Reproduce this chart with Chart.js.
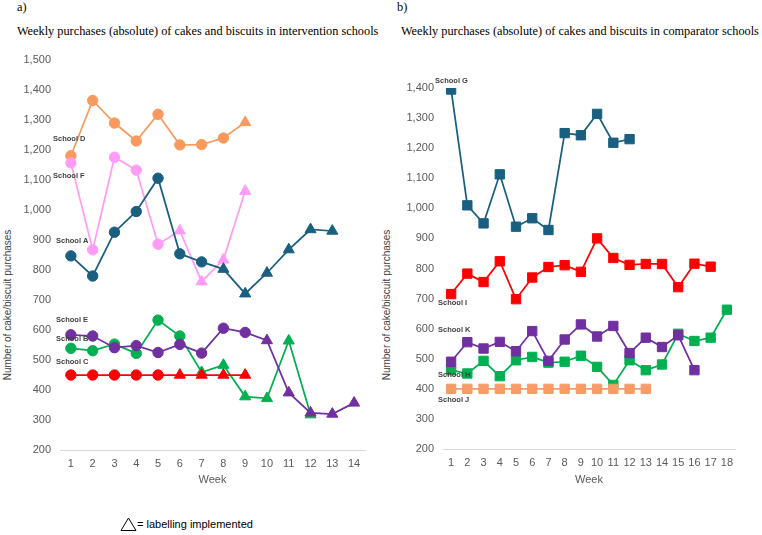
<!DOCTYPE html>
<html>
<head>
<meta charset="utf-8">
<script src="https://cdn.jsdelivr.net/npm/chart.js@4.4.1/dist/chart.umd.min.js"></script>
<style>
  body { margin: 0; width: 762px; height: 535px; background: #fff; position: relative; overflow: hidden; }
  .serif { position: absolute; font-family: "Liberation Serif", "Times New Roman", serif; font-size: 12.3px; color: #000; white-space: nowrap; }
  .ytitle { position: absolute; font-family: "Liberation Sans", Arial, sans-serif; font-size: 10px; color: #404040; white-space: nowrap; transform: translate(-50%, -50%) rotate(-90deg); }
  .note { position: absolute; font-family: "Liberation Sans", Arial, sans-serif; font-size: 11px; color: #000; white-space: nowrap; }
  #left { position: absolute; left: 0; top: 0; }
  #right { position: absolute; left: 385px; top: 0; }
</style>
</head>
<body>
<div class="serif" style="left:17px; top:0px;">a)</div>
<div class="serif" style="left:17px; top:24px;">Weekly purchases (absolute) of cakes and biscuits in intervention schools</div>
<div class="serif" style="left:397px; top:0px;">b)</div>
<div class="serif" style="left:401px; top:24px;">Weekly purchases (absolute) of cakes and biscuits in comparator schools</div>
<div class="ytitle" style="left:7px; top:305px;">Number of cake/biscuit purchases</div>
<div class="ytitle" style="left:386px; top:305px;">Number of cake/biscuit purchases</div>
<canvas id="left" width="385" height="495"></canvas>
<canvas id="right" width="377" height="495"></canvas>
<svg style="position:absolute; left:120px; top:517px;" width="18" height="15"><polygon points="8.5,1 16,13.5 1,13.5" fill="none" stroke="#000" stroke-width="1"/></svg>
<div class="note" style="left:137px; top:518px;">= labelling implemented</div>
<script>
// weeks
const weeksA = ['1', '2', '3', '4', '5', '6', '7', '8', '9', '10', '11', '12', '13', '14'];
const weeksB = ['1', '2', '3', '4', '5', '6', '7', '8', '9', '10', '11', '12', '13', '14', '15', '16', '17', '18'];

// intervention schools (a)
const schoolD = [1181, 1365, 1290, 1230, 1319, 1217, 1218, 1240, 1292];
const schoolF = [1157, 867, 1176, 1133, 886, 931, 761, 834, 1063];
const schoolA = [847, 780, 926, 995, 1106, 854, 827, 803, 721, 790, 868, 935, 930];
const schoolE = [584, 580, 541, 548, 525, 552, 523, 606, 592, 565, 391, 324, 320, 357];
const schoolB = [539, 531, 553, 522, 633, 580, 459, 483, 378, 372, 564, 318];
const schoolC = [450, 450, 450, 450, 450, 450, 450, 450, 450];
// week in which labelling started
const labelStart = { D: 9, F: 6, A: 8, E: 10, B: 7, C: 6 };

// comparator schools (b)
const schoolG = [1395, 1010, 950, 1113, 939, 967, 928, 1250, 1243, 1314, 1218, 1230];
const schoolI = [715, 783, 755, 824, 698, 770, 805, 811, 789, 900, 835, 812, 815, 815, 738, 816, 806];
const schoolK = [490, 555, 534, 556, 525, 592, 493, 564, 614, 574, 609, 519, 570, 539, 578, 462];
const schoolH = [462, 451, 493, 442, 495, 506, 487, 490, 510, 473, 413, 495, 462, 481, 583, 559, 570, 663];
const schoolJ = [400, 400, 400, 400, 400, 400, 400, 400, 400, 400, 400, 400, 400];

const FONT = '"Liberation Sans", Arial, sans-serif';
const TICK = '#595959';

// draws the "School X" tags next to the first point of each line
const schoolLabels = {
  id: 'schoolLabels',
  afterDatasetsDraw(chart, args, opts) {
    const ctx = chart.ctx;
    const y = chart.scales.y;
    ctx.save();
    ctx.font = 'bold 7.5px ' + FONT;
    ctx.fillStyle = '#404040';
    ctx.textBaseline = 'middle';
    ctx.textAlign = 'left';
    opts.items.forEach(it => {
      ctx.fillText(it.text, chart.chartArea.left + it.dx, y.getPixelForValue(it.at));
    });
    ctx.restore();
  }
};

function interventionSet(data, color, start) {
  return {
    data: data,
    borderColor: color,
    backgroundColor: color,
    borderWidth: 1.75,
    pointBorderColor: color,
    pointBorderWidth: 1,
    pointStyle: ctx => (ctx.dataIndex + 1 >= start ? 'triangle' : 'circle'),
    pointRadius: ctx => (ctx.dataIndex + 1 >= start ? 6.4 : 5.2),
    tension: 0
  };
}

function comparatorSet(data, color) {
  return {
    data: data,
    borderColor: color,
    backgroundColor: color,
    borderWidth: 1.75,
    pointBorderColor: color,
    pointBorderWidth: 1,
    pointStyle: 'rect',
    pointRadius: 6.6,
    tension: 0
  };
}

function baseOptions(yMax, padding, yWidth, xHeight, labels) {
  return {
    responsive: false,
    animation: false,
    devicePixelRatio: 1,
    layout: { padding: padding },
    plugins: {
      legend: { display: false },
      tooltip: { enabled: false },
      schoolLabels: { items: labels }
    },
    scales: {
      x: {
        offset: true,
        grid: { display: false, drawTicks: false },
        border: { display: true, color: '#d9d9d9', width: 1 },
        ticks: { color: TICK, font: { family: FONT, size: 11 }, padding: 7, autoSkip: false, maxRotation: 0 },
        title: { display: true, text: 'Week', color: TICK, font: { family: FONT, size: 11 }, padding: { top: 0, bottom: 8 } },
        afterFit: s => { s.height = xHeight; }
      },
      y: {
        min: 200,
        max: yMax,
        grid: { display: false, drawTicks: false },
        border: { display: false },
        ticks: {
          stepSize: 100,
          color: TICK,
          font: { family: FONT, size: 11 },
          padding: 9,
          callback: v => v.toLocaleString('en-US')
        },
        afterFit: s => { s.width = yWidth; }
      }
    }
  };
}

new Chart(document.getElementById('left').getContext('2d'), {
  type: 'line',
  data: {
    labels: weeksA,
    datasets: [
      interventionSet(schoolC, '#ff0000', labelStart.C),
      interventionSet(schoolE, '#7030a0', labelStart.E),
      interventionSet(schoolB, '#00b050', labelStart.B),
      interventionSet(schoolA, '#1a5f80', labelStart.A),
      interventionSet(schoolF, '#ff9cf7', labelStart.F),
      interventionSet(schoolD, '#f89a5e', labelStart.D)
    ]
  },
  options: baseOptions(1500, { top: 60, right: 20, left: 0, bottom: 0 }, 60, 45, [
    { text: 'School D', at: 1237, dx: -7 },
    { text: 'School F', at: 1114, dx: -7 },
    { text: 'School A', at: 898, dx: -4 },
    { text: 'School E', at: 633, dx: -4 },
    { text: 'School B', at: 570, dx: -4 },
    { text: 'School C', at: 493, dx: -4 }
  ]),
  plugins: [schoolLabels]
});

new Chart(document.getElementById('right').getContext('2d'), {
  type: 'line',
  data: {
    labels: weeksB,
    datasets: [
      comparatorSet(schoolG, '#1a5f80'),
      comparatorSet(schoolI, '#ff0000'),
      comparatorSet(schoolK, '#7030a0'),
      comparatorSet(schoolJ, '#f99b66'),
      comparatorSet(schoolH, '#00b050')
    ]
  },
  options: baseOptions(1400, { top: 88, right: 27, left: 0, bottom: 0 }, 58, 46, [
    { text: 'School G', at: 1423, dx: -8 },
    { text: 'School I', at: 687, dx: -5 },
    { text: 'School K', at: 596, dx: -5 },
    { text: 'School H', at: 447, dx: -5 },
    { text: 'School J', at: 364, dx: -5 }
  ]),
  plugins: [schoolLabels]
});
</script>
</body>
</html>
